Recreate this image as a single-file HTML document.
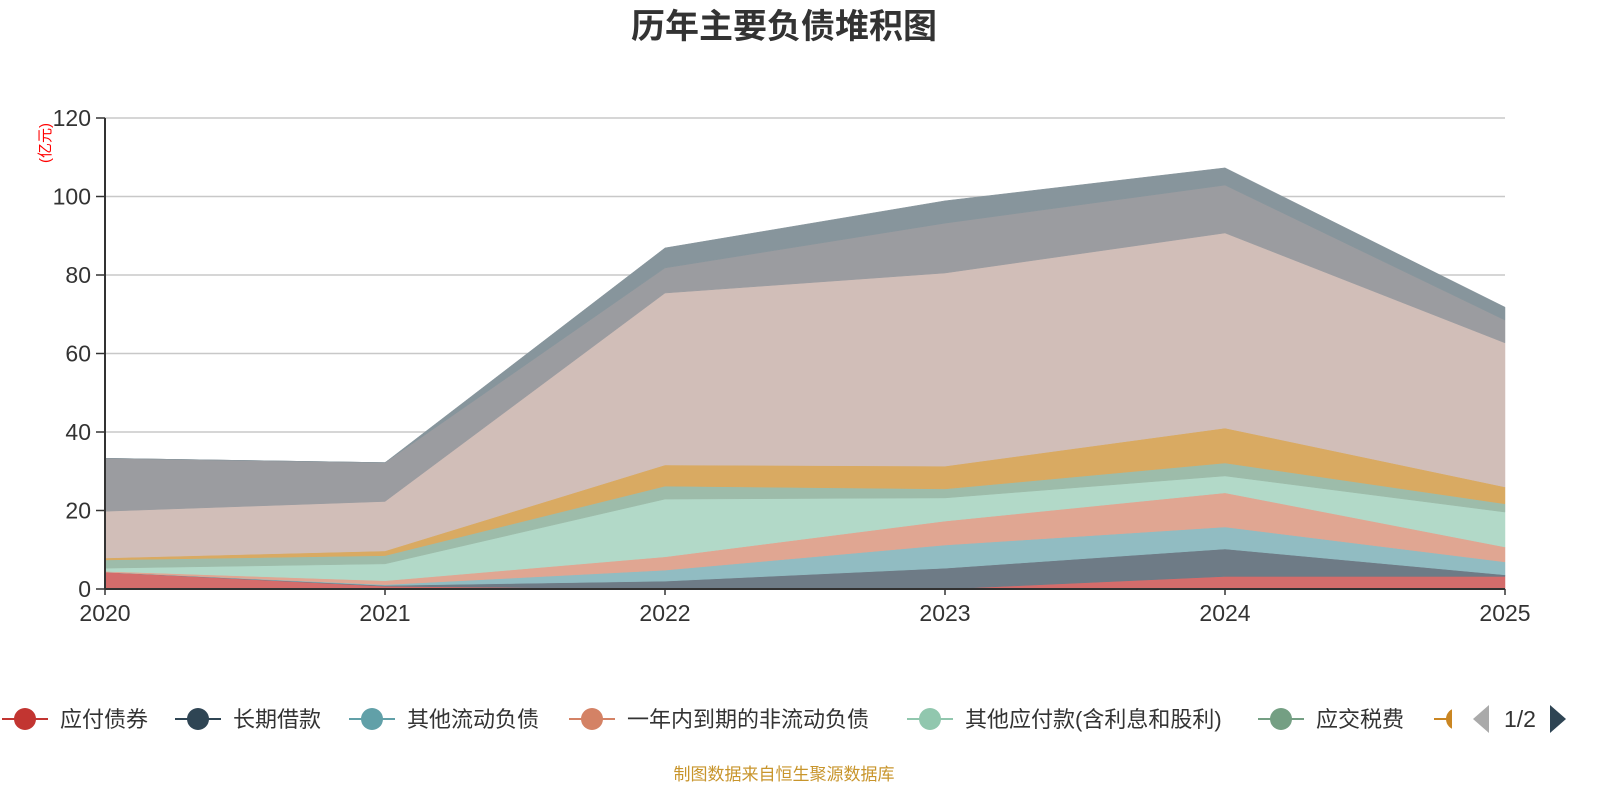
<!DOCTYPE html>
<html><head><meta charset="utf-8">
<style>
body{margin:0;background:#fff;width:1600px;height:800px;overflow:hidden;font-family:"Liberation Sans","Noto Sans CJK SC",sans-serif;}
svg text{font-family:"Liberation Sans","Noto Sans CJK SC",sans-serif;}
</style></head>
<body>
<svg id="chart" width="1600" height="800" xmlns="http://www.w3.org/2000/svg">
<text x="784" y="38" text-anchor="middle" font-size="34" font-weight="bold" fill="#333">历年主要负债堆积图</text>
<text transform="translate(50,143) rotate(-90)" text-anchor="middle" font-size="15" fill="#ff0000">(亿元)</text>
<g id="grid"></g>
<g id="areas"></g>
<g id="axes"></g>
<g id="legend"></g>
<text x="784" y="780" text-anchor="middle" font-size="17" fill="#c8952c">制图数据来自恒生聚源数据库</text>
</svg>
<script>
const years = ['2020','2021','2022','2023','2024','2025'];
const yTicks = [0,20,40,60,80,100,120];
const seriesNames = ['应付债券','长期借款','其他流动负债','一年内到期的非流动负债','其他应付款(含利息和股利)','应交税费','应付账款','合同负债','应付票据','短期借款'];
const s1 = [4.3,0.7,0,0,3.2,3.2];
const s2 = [0,0.2,2.0,5.3,7.0,0.4];
const s3 = [0,0.2,2.8,5.9,5.6,3.3];
const s4 = [0.2,1.0,3.4,6.1,8.7,3.8];
const s5 = [0.8,4.3,14.7,5.9,4.3,8.9];
const s6 = [2.1,2.1,3.3,2.3,3.3,2.1];
const s7 = [0.5,1.2,5.4,5.8,8.9,4.3];
const s8 = [11.9,12.6,43.8,49.2,49.7,36.7];
const s9 = [13.5,9.9,6.4,12.7,12.2,5.8];
const s10 = [0,0,5.1,5.7,4.4,3.3];
const seriesValues = [s1,s2,s3,s4,s5,s6,s7,s8,s9,s10];
const fills = ['#d46c6b','#6e7b86','#91bcc2','#e0a692','#b2d9c8','#9dbcaa','#d9aa62','#d1beb8','#9b9ca0','#87959c'];
const legendColors = ['#c23531','#2f4554','#61a0a8','#d48265','#91c7ae','#749f83','#ca8622'];
const NS='http://www.w3.org/2000/svg';
const X0=105,X1=1505,Y0=589,Y1=118,YMAX=120;
const xs=i=>X0+(X1-X0)*i/(years.length-1);
const ys=v=>Y0-(Y0-Y1)*v/YMAX;
function mk(tag,attrs,parent){const e=document.createElementNS(NS,tag);for(const k in attrs)e.setAttribute(k,attrs[k]);parent.appendChild(e);return e;}
const grid=document.getElementById('grid'),areas=document.getElementById('areas'),axes=document.getElementById('axes'),legend=document.getElementById('legend');
yTicks.forEach(t=>{
  if(t>0){const l=mk('line',{x1:X0,x2:X1,y1:ys(t),y2:ys(t),stroke:'#c8c8c8','stroke-width':1.5},grid);
  
  }
  const tk=mk('line',{x1:X0-9,x2:X0,y1:ys(t),y2:ys(t),stroke:'#333','stroke-width':1.5},axes);
  
  
  const tx=mk('text',{x:X0-14,y:ys(t)+8,'text-anchor':'end','font-size':23,fill:'#333'},axes);
  tx.textContent=t;
  
  
});
let base=years.map(()=>0);
seriesValues.forEach((vals,si)=>{
  const top=base.map((b,i)=>b+vals[i]);
  let d='';
  top.forEach((v,i)=>{d+=(i?'L':'M')+xs(i)+','+ys(v);});
  for(let i=years.length-1;i>=0;i--)d+='L'+xs(i)+','+ys(base[i]);
  d+='Z';
  const p=mk('path',{d:d,fill:fills[si],stroke:fills[si],'stroke-width':0.5},areas);
  
  
  base=top;
});
const ax=mk('line',{x1:X0,x2:X0,y1:Y1,y2:Y0,stroke:'#333','stroke-width':2},axes);


const bx=mk('line',{x1:X0,x2:X1,y1:Y0,y2:Y0,stroke:'#333','stroke-width':2},axes);


years.forEach((y,i)=>{
  const tk=mk('line',{x1:xs(i),x2:xs(i),y1:Y0,y2:Y0+6,stroke:'#333','stroke-width':1.5},axes);
  
  
  const t=mk('text',{x:xs(i),y:621,'text-anchor':'middle','font-size':23,fill:'#333'},axes);
  t.textContent=y;
  
  
});
const lx=[2,175,349,569,907,1258,1434];
const defs=mk('defs',{},document.getElementById('chart'));
mk('rect',{x:0,y:690,width:1452,height:60},mk('clipPath',{id:'lc'},defs));
const lg=mk('g',{'clip-path':'url(#lc)'},legend);
lx.forEach((x,i)=>{
  const g=mk('g',{},lg);
  
  
  mk('line',{x1:x,x2:x+46,y1:719,y2:719,stroke:legendColors[i],'stroke-width':2},g);
  mk('circle',{cx:x+23,cy:719,r:11,fill:legendColors[i]},g);
  const t=mk('text',{x:x+58,y:727,'font-size':22,fill:'#333'},g);
  t.textContent=seriesNames[i];
});
const pl=mk('path',{d:'M1473,719 L1489,705 L1489,733 Z',fill:'#aaa'},legend);


const pt=mk('text',{x:1520,y:727,'text-anchor':'middle','font-size':23,fill:'#333'},legend);
pt.textContent='1/2';


const pn=mk('path',{d:'M1566,719 L1550,705 L1550,733 Z',fill:'#2f4554'},legend);


</script>
</body></html>
